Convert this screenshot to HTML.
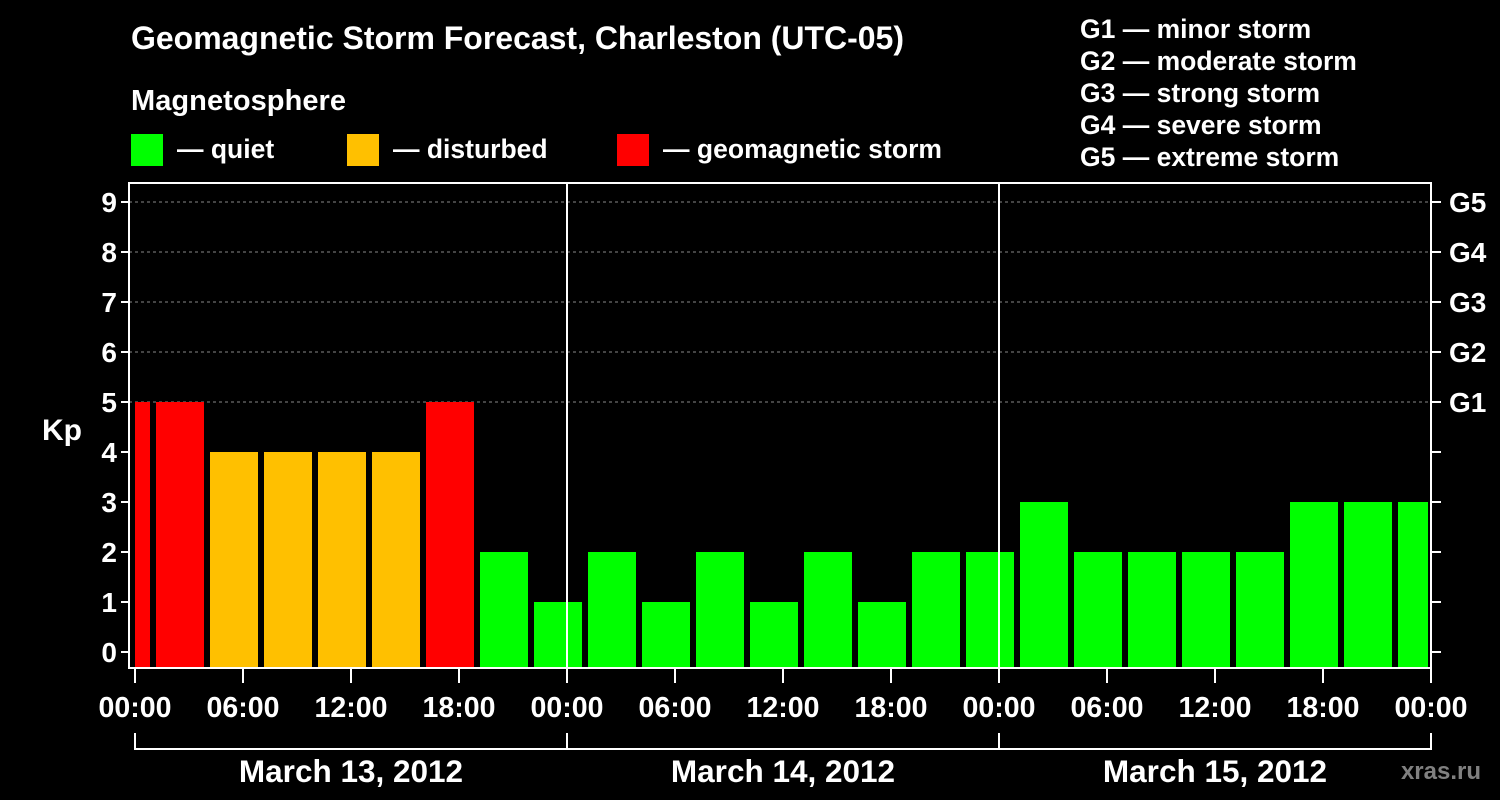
<!DOCTYPE html>
<html><head><meta charset="utf-8"><style>
html,body{margin:0;padding:0;background:#000;width:1500px;height:800px;overflow:hidden}
svg text{font-family:"Liberation Sans",sans-serif;font-weight:bold;fill:#fff}
</style></head><body>
<svg id="c" width="1500" height="800" xmlns="http://www.w3.org/2000/svg">
<text x="131" y="49" font-size="32" textLength="773">Geomagnetic Storm Forecast, Charleston (UTC-05)</text>
<text x="131" y="110" font-size="29" textLength="215">Magnetosphere</text>
<g><rect x="131" y="134" width="32" height="32" fill="#00ff00"/><text x="177" y="158" font-size="26.5">— quiet</text></g>
<g><rect x="347" y="134" width="32" height="32" fill="#ffc000"/><text x="393" y="158" font-size="26.5">— disturbed</text></g>
<g><rect x="617" y="134" width="32" height="32" fill="#ff0000"/><text x="663" y="158" font-size="26.5" textLength="279">— geomagnetic storm</text></g>
<g font-size="26.5">
<text x="1080" y="38">G1 — minor storm</text>
<text x="1080" y="70">G2 — moderate storm</text>
<text x="1080" y="102">G3 — strong storm</text>
<text x="1080" y="134">G4 — severe storm</text>
<text x="1080" y="166">G5 — extreme storm</text>
</g>
<text x="42" y="440" font-size="30">Kp</text>
<g id="grid"></g><g id="bars"></g><g id="axes"></g>
<text x="1481" y="779" font-size="24" text-anchor="end" style="fill:#808080">xras.ru</text>
</svg>
<script>
const kpValues=[5,5,4,4,4,4,5,2,1,2,1,2,1,2,1,2,2,3,2,2,2,2,3,3,3];
const yTicks=[0,1,2,3,4,5,6,7,8,9];
const gLabels=[[5,"G1"],[6,"G2"],[7,"G3"],[8,"G4"],[9,"G5"]];
const xTickLabels=["00:00","06:00","12:00","18:00","00:00","06:00","12:00","18:00","00:00","06:00","12:00","18:00","00:00"];
const dayLabels=["March 13, 2012","March 14, 2012","March 15, 2012"];
const NS="http://www.w3.org/2000/svg";
const L=129,R=1431,T=183,B=668,X0=135,PXH=18;
const y=v=>652-v*50, x=h=>X0+h*PXH;
function mk(tag,at,par){const e=document.createElementNS(NS,tag);for(const k in at)e.setAttribute(k,at[k]);document.getElementById(par).appendChild(e);return e;}
yTicks.forEach(v=>{if(v>=5){const g=mk('line',{x1:L,x2:R,y1:y(v),y2:y(v),stroke:'#888','stroke-dasharray':'3,3','stroke-width':1},'grid');

}});
kpValues.forEach((v,i)=>{let s=-2+3*i,e=s+3;let x1=Math.max(x(s),X0)+3,x2=Math.min(x(e),R)-3;if(i==0)x1=X0;
const c=v>=5?'#ff0000':(v>=4?'#ffc000':'#00ff00');
const r=mk('rect',{x:x1,y:y(v),width:x2-x1,height:B-y(v),fill:c},'bars');

});
const A='axes';
mk('rect',{x:L,y:T,width:R-L,height:B-T,fill:'none',stroke:'#fff','stroke-width':2},A);
[1,2].forEach(d=>{mk('line',{x1:x(24*d),x2:x(24*d),y1:T,y2:B,stroke:'#fff','stroke-width':2},A);});
yTicks.forEach(v=>{mk('line',{x1:L-8,x2:L,y1:y(v),y2:y(v),stroke:'#fff','stroke-width':2},A);
mk('line',{x1:R,x2:R+10,y1:y(v),y2:y(v),stroke:'#fff','stroke-width':2},A);
const t=mk('text',{x:L-12,y:y(v)+10,'font-size':28,'text-anchor':'end'},A);t.textContent=v;

});
gLabels.forEach(([v,s])=>{const t=mk('text',{x:R+18,y:y(v)+10,'font-size':28},A);t.textContent=s;

});
xTickLabels.forEach((s,i)=>{const xx=x(6*i);mk('line',{x1:xx,x2:xx,y1:B,y2:B+15,stroke:'#fff','stroke-width':2},A);
const t=mk('text',{x:xx,y:717,'font-size':28.5,'text-anchor':'middle'},A);t.textContent=s;

});
mk('line',{x1:X0,x2:R,y1:749,y2:749,stroke:'#fff','stroke-width':2},A);
[0,1,2,3].forEach(d=>{mk('line',{x1:x(24*d),x2:x(24*d),y1:733,y2:750,stroke:'#fff','stroke-width':2},A);});
dayLabels.forEach((s,i)=>{const t=mk('text',{x:x(24*i+12),y:782,'font-size':31.5,'text-anchor':'middle'},A);t.textContent=s;

});
</script>
</body></html>
